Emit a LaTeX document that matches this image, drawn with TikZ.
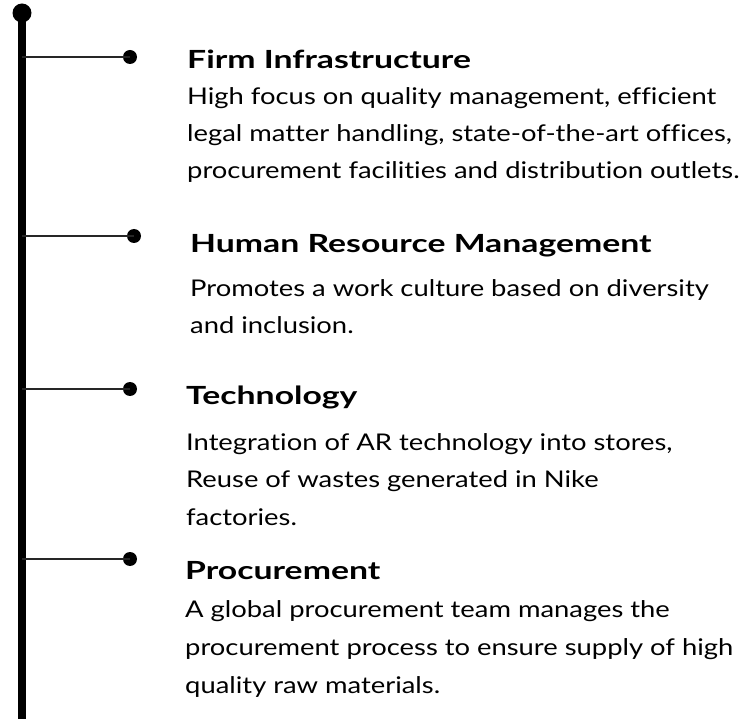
\documentclass[tikz,border=0pt]{standalone}
\usepackage{fontspec}
\setmainfont{Lato}[Ligatures=NoCommon,FakeStretch=1.19]
\newfontfamily\titlefont{Lato}[Ligatures=NoCommon,FakeStretch=1.35]
\begin{document}
\begin{tikzpicture}[x=1pt,y=-1pt,
  title/.style={anchor=base west,inner sep=0pt,font=\titlefont\fontsize{25}{29}\selectfont\bfseries},
  body/.style={anchor=base west,inner sep=0pt,font=\fontsize{23}{27}\selectfont},
  spine/.style={line width=8pt,black},
  branch/.style={line width=1.8pt,black!85},
  bigdot/.style={circle,fill=black,inner sep=0pt,minimum size=19pt},
  smalldot/.style={circle,fill=black,inner sep=0pt,minimum size=14pt}]
\useasboundingbox (0,0) rectangle (750,719);
% spine
\node[bigdot] (top) at (22,13) {};
\coordinate (bot) at (22,719);
\draw[spine] (top.center) -- (bot);
% branch points on spine
\coordinate (s1) at (22,57);
\coordinate (s2) at (22,236);
\coordinate (s3) at (22,389);
\coordinate (s4) at (22,559);
\node[smalldot] (d1) at (130,57) {};
\node[smalldot] (d2) at (134,236) {};
\node[smalldot] (d3) at (130,389) {};
\node[smalldot] (d4) at (130,559) {};
\draw[branch] (s1) -- (d1.center);
\draw[branch] (s2) -- (d2.center);
\draw[branch] (s3) -- (d3.center);
\draw[branch] (s4) -- (d4.center);
% block 1
\node[title] (t1) at (187,69) {Firm Infrastructure};
\node[body] (b1a) at (187,105) {High focus on quality management, efficient};
\node[body] (b1b) at (187,142) {legal matter handling, state-of-the-art offices,};
\node[body] (b1c) at (187,179) {procurement facilities and distribution outlets.};
% block 2
\node[title] (t2) at (190,253) {Human Resource Management};
\node[body] (b2a) at (190,297) {Promotes a work culture based on diversity};
\node[body] (b2b) at (190,334) {and inclusion.};
% block 3
\node[title] (t3) at (186,405) {Technology};
\node[body] (b3a) at (186,450) {Integration of AR technology into stores,};
\node[body] (b3b) at (186,487) {Reuse of wastes generated in Nike};
\node[body] (b3c) at (186,525) {factories.};
% block 4
\node[title] (t4) at (185,579) {Procurement};
\node[body] (b4a) at (185,617) {A global procurement team manages the};
\node[body] (b4b) at (185,655) {procurement process to ensure supply of high};
\node[body] (b4c) at (185,693) {quality raw materials.};
\end{tikzpicture}
\end{document}
